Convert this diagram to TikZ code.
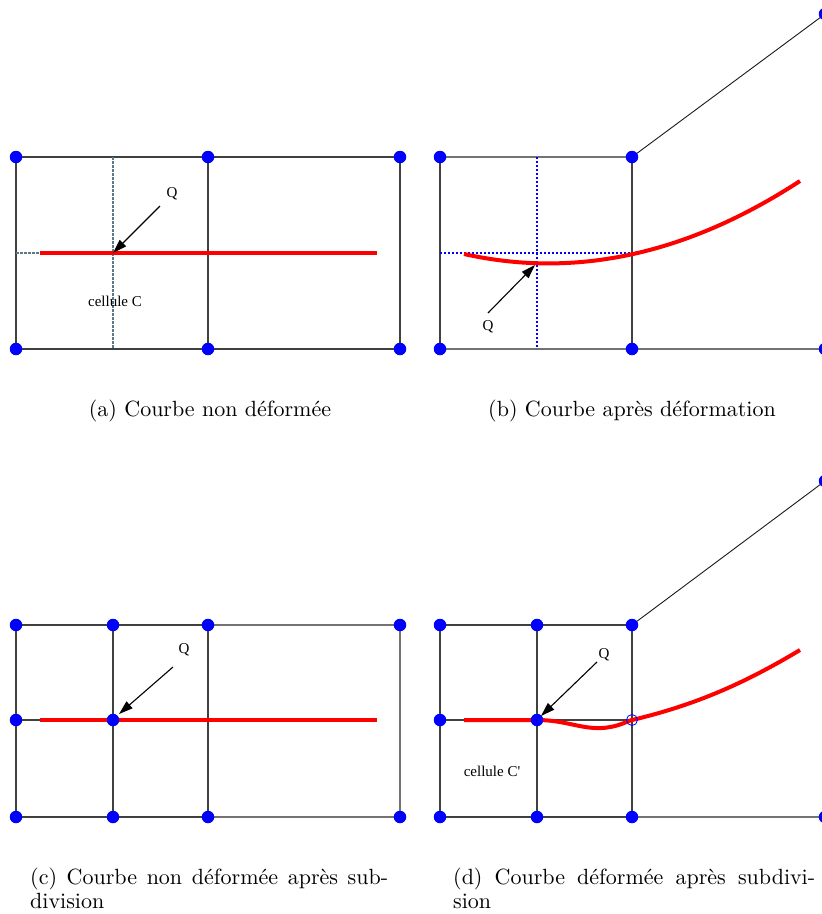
\documentclass[tikz,border=0pt]{standalone}
\usepackage{fontspec}
\newfontfamily\lbl{Liberation Serif}
\newfontfamily\capfont{lmroman10-regular}[Extension=.otf]
\usetikzlibrary{arrows.meta}
\definecolor{dashgray}{RGB}{95,120,135}
\begin{document}
\begin{tikzpicture}[x=1pt,y=-1pt,
  dot/.style={circle,fill=blue,inner sep=0pt,minimum size=12.5pt},
  odot/.style={circle,draw=blue,thick,inner sep=0pt,minimum size=11pt},
  gline/.style={draw=black!75,line width=1.2pt},
  lgline/.style={draw=black!55,line width=1.2pt},
  tline/.style={draw=black!90,line width=0.9pt},
  curve/.style={draw=red,line width=4pt},
  ptr/.style={draw=black,line width=1.1pt,-{Triangle[length=14pt,width=9pt]}},
  lab/.style={font=\lbl\fontsize{15}{18}\selectfont,inner sep=0pt},
  captxt/.style={font=\capfont\fontsize{22}{24}\selectfont,inner sep=0pt},
  gdash/.style={draw=dashgray,dash pattern=on 3pt off 1pt,line width=1.1pt},
  bdot/.style={draw=blue,dash pattern=on 2pt off 2pt,line width=1.2pt}]
\useasboundingbox (0,0) rectangle (822,914);
\clip (0,0) rectangle (822,914);
% ---------- (a)
\coordinate (a11) at (16,157); \coordinate (a12) at (208,157); \coordinate (a13) at (400,157);
\coordinate (a31) at (16,349); \coordinate (a32) at (208,349); \coordinate (a33) at (400,349);
\coordinate (amt) at (113,157); \coordinate (amb) at (113,349);
\coordinate (aml) at (16,253); \coordinate (acs) at (40,253); \coordinate (ace) at (377,253);
\coordinate (aq) at (113,253); \coordinate (aqs) at (160,206);
\draw[gline] (a11) -- (a13) (a31) -- (a33) (a11) -- (a31) (a12) -- (a32) (a13) -- (a33);
\draw[gdash] (amt) -- (amb) (aml) -- (acs);
\draw[curve] (acs) -- (ace);
\draw[ptr] (aqs) -- (aq);
\node[lab] (aQ) at (172,194) {Q};
\node[lab] (aC) at (115,301) {cellule C};
\foreach \n in {a11,a12,a13,a31,a32,a33} \node[dot] (d\n) at (\n) {};
\node[captxt,anchor=base] (capa) at (210,416) {(a) Courbe non déformée};
% ---------- (b)
\coordinate (b11) at (440,157); \coordinate (b12) at (632,157); \coordinate (b13) at (825,14);
\coordinate (b31) at (440,349); \coordinate (b32) at (632,349); \coordinate (b33) at (825,349);
\coordinate (bmt) at (537,157); \coordinate (bmb) at (537,349);
\coordinate (bml) at (440,253); \coordinate (bmr) at (632,253);
\coordinate (bcs) at (464,254); \coordinate (bce) at (800,181);
\coordinate (bq) at (535,265); \coordinate (bqs) at (488,313);
\draw[lgline] (b11) -- (b12) (b31) -- (b33);
\draw[gline] (b11) -- (b31) (b12) -- (b32);
\draw[tline] (b12) -- (b13);
\draw[bdot] (bmt) -- (bmb) (bml) -- (bmr);
\draw[curve] (bcs) .. controls (576,279) and (688,254) .. (bce);
\draw[ptr] (bqs) -- (bq);
\node[lab] (bQ) at (488,327) {Q};
\foreach \n in {b11,b12,b13,b31,b32,b33} \node[dot] (d\n) at (\n) {};
\node[captxt,anchor=base] (capb) at (632,416) {(b) Courbe après déformation};
% ---------- (c)
\coordinate (c11) at (16,625); \coordinate (c12) at (113,625); \coordinate (c13) at (208,625); \coordinate (c14) at (400,625);
\coordinate (c21) at (16,720); \coordinate (c22) at (113,720);
\coordinate (c31) at (16,817); \coordinate (c32) at (113,817); \coordinate (c33) at (208,817); \coordinate (c34) at (400,817);
\coordinate (ccs) at (40,720); \coordinate (cce) at (377,720);
\coordinate (cq) at (119,714); \coordinate (cqs) at (173,667);
\draw[gline] (c11) -- (c13) (c31) -- (c33) (c11) -- (c31) (c12) -- (c32) (c13) -- (c33) (c21) -- (ccs);
\draw[lgline] (c13) -- (c14) (c33) -- (c34) (c14) -- (c34);
\draw[curve] (ccs) -- (cce);
\draw[ptr] (cqs) -- (cq);
\node[lab] (cQ) at (184,650) {Q};
\foreach \n in {c11,c12,c13,c14,c21,c22,c31,c32,c33,c34} \node[dot] (d\n) at (\n) {};
\node[captxt,anchor=base west] (capc1) at (30,884) {\hbox to 358pt{(c) Courbe non déformée après sub-}};
\node[captxt,anchor=base west] (capc2) at (30,908) {division};
% ---------- (d)
\coordinate (d11) at (440,625); \coordinate (d12) at (537,625); \coordinate (d13) at (632,625); \coordinate (d14) at (825,481);
\coordinate (d21) at (440,720); \coordinate (d22) at (537,720); \coordinate (d23) at (632,720);
\coordinate (d31) at (440,817); \coordinate (d32) at (537,817); \coordinate (d33) at (632,817); \coordinate (d34) at (825,817);
\coordinate (dcs) at (464,720); \coordinate (dce) at (800,650);
\coordinate (dq) at (541,716); \coordinate (dqs) at (597,662);
\draw[gline] (d11) -- (d13) (d31) -- (d33) (d11) -- (d31) (d12) -- (d32) (d13) -- (d33) (d21) -- (d23);
\draw[lgline] (d33) -- (d34);
\draw[tline] (d13) -- (d14);
\draw[curve,line join=round] (dcs) -- (d22) .. controls (565,720) and (580,729) .. (602,728) .. controls (618,727) and (625,722) .. (d23) .. controls (700,704) and (750,680) .. (dce);
\draw[ptr] (dqs) -- (dq);
\node[lab] (dQ) at (604,655) {Q};
\node[lab] (dC) at (492,771) {cellule C'};
\foreach \n in {d11,d12,d13,d14,d21,d22,d31,d32,d33,d34} \node[dot] (n\n) at (\n) {};
\node[odot] (nd23) at (d23) {};
\node[captxt,anchor=base west] (capd1) at (453,884) {\hbox to 362pt{(d) Courbe déformée après subdivi-}};
\node[captxt,anchor=base west] (capd2) at (453,908) {sion};
\end{tikzpicture}
\end{document}
